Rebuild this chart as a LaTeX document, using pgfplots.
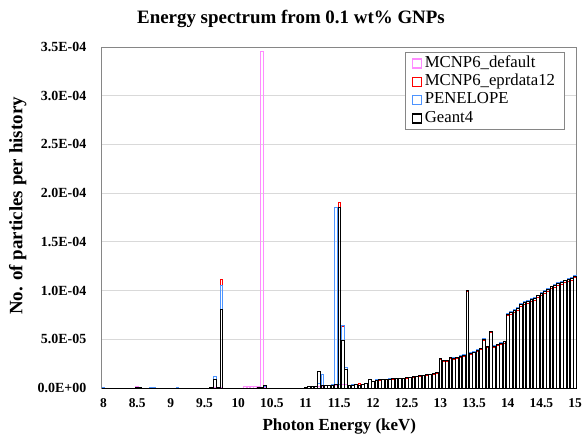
\documentclass[border=0pt]{standalone}
\usepackage{fontspec}
\setmainfont{Liberation Serif}
\usepackage{pgfplots}
\usepackage{pgfplotstable}
\pgfplotsset{compat=1.18}
\definecolor{mdef}{RGB}{255,140,255}
\definecolor{mepr}{RGB}{255,0,0}
\definecolor{mpen}{RGB}{77,148,255}
\definecolor{mg4}{RGB}{0,0,0}
\definecolor{gridc}{RGB}{217,217,217}
\definecolor{boxc}{RGB}{134,134,134}

% bins of 0.05 keV, values in particles per history; empty bins left out
\pgfplotstableread{
E     def       epr       pen       g4
8.00  0         0         4e-7      0
8.50  1.2e-6    1.0e-6    8e-7      1.0e-6
8.55  8e-7      6e-7      5e-7      6e-7
8.70  0         0         4e-7      0
8.75  0         0         4e-7      0
9.10  0         0         4e-7      0
9.60  5e-7      5e-7      5e-7      5e-7
9.65  5e-7      9e-6      1.15e-5   9e-6
9.70  5e-7      1e-6      1e-6      1e-6
9.75  1e-6      1.11e-4   1.05e-4   8.1e-5
10.10 1.2e-6    0         0         0
10.15 1.2e-6    0         0         0
10.20 1.3e-6    0         0         0
10.25 1.3e-6    0         0         0
10.30 1.5e-6    5e-7      5e-7      5e-7
10.35 3.45e-4   8e-7      8e-7      8e-7
10.40 1.0e-6    3.0e-6    1.5e-6    2.8e-6
11.00 1e-6      1e-6      1e-6      1e-6
11.05 1.2e-6    1.5e-6    1.2e-6    1.5e-6
11.10 1.3e-6    1.5e-6    1.3e-6    1.5e-6
11.15 1.5e-6    2e-6      1.5e-6    2e-6
11.20 2e-6      1.75e-5   5e-6      1.67e-5
11.25 2e-6      2.5e-6    1.35e-5   2.5e-6
11.30 2.5e-6    2.5e-6    3e-6      2.5e-6
11.35 2.5e-6    2.5e-6    3e-6      2.5e-6
11.40 3e-6      3e-6      3.5e-6    3e-6
11.45 3e-6      3.5e-6    1.85e-4   3.5e-6
11.50 3.5e-6    1.9e-4    3.5e-6    1.85e-4
11.55 3.5e-6    6.3e-5    6.4e-5    4.9e-5
11.60 3.5e-6    1.9e-5    2.1e-5    1.9e-5
11.65 3e-6      3e-6      3e-6      3e-6
11.70 3e-6      3e-6      3.5e-6    3e-6
11.75 3.5e-6    4e-6      4e-6      4e-6
11.80 3e-6      4.5e-6    3e-6      3e-6
11.85 3.5e-6    3.5e-6    3.5e-6    3.5e-6
11.90 4.5e-6    4.5e-6    4.5e-6    4.5e-6
11.95 8.5e-6    9e-6      8.8e-6    8.6e-6
12.00 6.3e-6    6.3e-6    6.8e-6    6.5e-6
12.05 7.8e-6    7.8e-6    8.3e-6    8.0e-6
12.10 8.2e-6    8.2e-6    8.7e-6    8.5e-6
12.15 8.3e-6    8.3e-6    8.8e-6    8.5e-6
12.20 8.7e-6    8.7e-6    9.2e-6    9.0e-6
12.25 8.8e-6    8.8e-6    9.3e-6    9.0e-6
12.30 9.2e-6    9.2e-6    9.8e-6    9.5e-6
12.35 9.3e-6    9.3e-6    9.7e-6    9.5e-6
12.40 9.7e-6    9.7e-6    1.03e-5   1.0e-5
12.45 9.8e-6    9.8e-6    1.02e-5   1.0e-5
12.50 1.02e-5   1.02e-5   1.08e-5   1.05e-5
12.55 1.07e-5   1.07e-5   1.12e-5   1.1e-5
12.60 1.12e-5   1.12e-5   1.17e-5   1.15e-5
12.65 1.17e-5   1.17e-5   1.22e-5   1.2e-5
12.70 1.21e-5   1.21e-5   1.27e-5   1.25e-5
12.75 1.26e-5   1.26e-5   1.32e-5   1.3e-5
12.80 1.31e-5   1.31e-5   1.37e-5   1.35e-5
12.85 1.36e-5   1.36e-5   1.42e-5   1.4e-5
12.90 1.41e-5   1.41e-5   1.48e-5   1.45e-5
12.95 1.5e-5    1.5e-5    1.57e-5   1.55e-5
13.00 2.97e-5   2.97e-5   3.08e-5   3.05e-5
13.05 2.72e-5   2.72e-5   2.85e-5   2.8e-5
13.10 2.72e-5   2.72e-5   2.84e-5   2.8e-5
13.15 3.01e-5   3.01e-5   3.15e-5   3.1e-5
13.20 2.96e-5   2.96e-5   3.09e-5   3.05e-5
13.25 3.01e-5   3.01e-5   3.14e-5   3.1e-5
13.30 3.16e-5   3.16e-5   3.3e-5    3.25e-5
13.35 3.25e-5   3.25e-5   3.4e-5    3.35e-5
13.40 9.9e-5    9.9e-5    1.0e-4    1.0e-4
13.45 3.45e-5   3.45e-5   3.6e-5    3.55e-5
13.50 3.6e-5    3.6e-5    3.75e-5   3.7e-5
13.55 3.79e-5   3.79e-5   3.95e-5   3.9e-5
13.60 3.93e-5   3.93e-5   4.1e-5    4.05e-5
13.65 4.9e-5    4.9e-5    5.05e-5   5.0e-5
13.70 4.2e-5    4.15e-5   4.3e-5    4.25e-5
13.75 5.7e-5    5.7e-5    5.85e-5   5.8e-5
13.80 4.18e-5   4.18e-5   4.35e-5   4.3e-5
13.85 4.33e-5   4.33e-5   4.5e-5    4.45e-5
13.90 4.47e-5   4.47e-5   4.65e-5   4.6e-5
13.95 4.62e-5   4.62e-5   4.8e-5    4.75e-5
14.00 7.4e-5    7.4e-5    7.7e-5    7.6e-5
14.05 7.55e-5   7.55e-5   7.85e-5   7.75e-5
14.10 7.8e-5    7.8e-5    8.1e-5    8.0e-5
14.15 8.0e-5    8.0e-5    8.3e-5    8.2e-5
14.20 8.4e-5    8.4e-5    8.7e-5    8.6e-5
14.25 8.55e-5   8.55e-5   8.85e-5   8.75e-5
14.30 8.65e-5   8.65e-5   8.95e-5   8.85e-5
14.35 8.85e-5   8.85e-5   9.15e-5   9.05e-5
14.40 9.0e-5    9.0e-5    9.3e-5    9.2e-5
14.45 9.25e-5   9.25e-5   9.55e-5   9.45e-5
14.50 9.5e-5    9.5e-5    9.8e-5    9.7e-5
14.55 9.75e-5   9.75e-5   1.0e-4    9.95e-5
14.60 9.95e-5   9.95e-5   1.02e-4   1.015e-4
14.65 1.02e-4   1.02e-4   1.045e-4  1.04e-4
14.70 1.035e-4  1.035e-4  1.06e-4   1.055e-4
14.75 1.055e-4  1.055e-4  1.08e-4   1.075e-4
14.80 1.065e-4  1.065e-4  1.09e-4   1.085e-4
14.85 1.08e-4   1.08e-4   1.105e-4  1.1e-4
14.90 1.095e-4  1.095e-4  1.12e-4   1.115e-4
14.95 1.105e-4  1.105e-4  1.13e-4   1.125e-4
15.00 1.13e-4   1.13e-4   1.16e-4   1.15e-4
}\spectrum

\pgfplotsset{
  sb/.style={ybar, bar shift=0pt, bar width=0.04, fill=none, draw=#1, line width=0.9bp,
    legend image code/.code={\draw[draw=#1, fill=white, line width=1.2bp] (0bp,-4.5bp) rectangle (9bp,4.5bp);}},
}

\begin{document}
\begin{tikzpicture}
\path[use as bounding box] (-101.8bp,-47bp) rectangle (480.2bp,388bp);
\begin{axis}[at={(0,0)}, anchor=south west, scale only axis,
  width=475bp, height=341bp,
  ybar,
  xmin=7.975, xmax=15.025, ymin=0, ymax=3.5e-4,
  xtick={8,8.5,9,9.5,10,10.5,11,11.5,12,12.5,13,13.5,14,14.5,15},
  xticklabels={8,8.5,9,9.5,10,10.5,11,11.5,12,12.5,13,13.5,14,14.5,15},
  ytick={0,0.00005,0.0001,0.00015,0.0002,0.00025,0.0003,0.00035},
  yticklabels={0.0E+00,5.0E-05,1.0E-04,1.5E-04,2.0E-04,2.5E-04,3.0E-04,3.5E-04},
  scaled y ticks=false,
  major tick length=0pt,
  ymajorgrids, major grid style={draw=gridc, line width=0.8bp},
  axis line style={draw=boxc, line width=0.8bp},
  xticklabel style={yshift=-7bp, font=\fontsize{13.5}{14}\selectfont\bfseries},
  yticklabel style={xshift=-12bp, font=\fontsize{14}{15}\selectfont\bfseries},
  title={Energy spectrum from 0.1 wt\% GNPs},
  title style={at={(axis description cs:0.3983,1.064)}, anchor=center,
    font=\fontsize{19}{20}\selectfont\bfseries},
  xlabel={Photon Energy (keV)},
  xlabel style={at={(axis description cs:0.5,-0.113)}, anchor=center,
    font=\fontsize{17}{19}\selectfont\bfseries},
  ylabel={No. of particles per history},
  ylabel style={at={(axis description cs:-0.1768,0.534)}, anchor=center,
    font=\fontsize{19}{21}\selectfont\bfseries},
  legend cell align=left,
  legend style={at={(axis description cs:0.975,0.9853)}, anchor=north east,
    draw=boxc, line width=0.8bp, fill=white, inner xsep=7bp, inner ysep=2bp, row sep=0pt,
    font=\fontsize{16.8}{18}\selectfont,
    nodes={inner xsep=2.5bp, inner ysep=1.4bp, text height=11.5bp, text depth=4bp}},
]
\addplot[sb=mdef] table[x=E, y=def] {\spectrum};
\addplot[sb=mepr] table[x=E, y=epr] {\spectrum};
\addplot[sb=mpen] table[x=E, y=pen] {\spectrum};
\addplot[sb=mg4] table[x=E, y=g4] {\spectrum};
\legend{MCNP6\_default, MCNP6\_eprdata12, PENELOPE, Geant4}
\draw[black, line width=1bp] (rel axis cs:0,0) -- (rel axis cs:1,0);
\end{axis}
\end{tikzpicture}
\end{document}
